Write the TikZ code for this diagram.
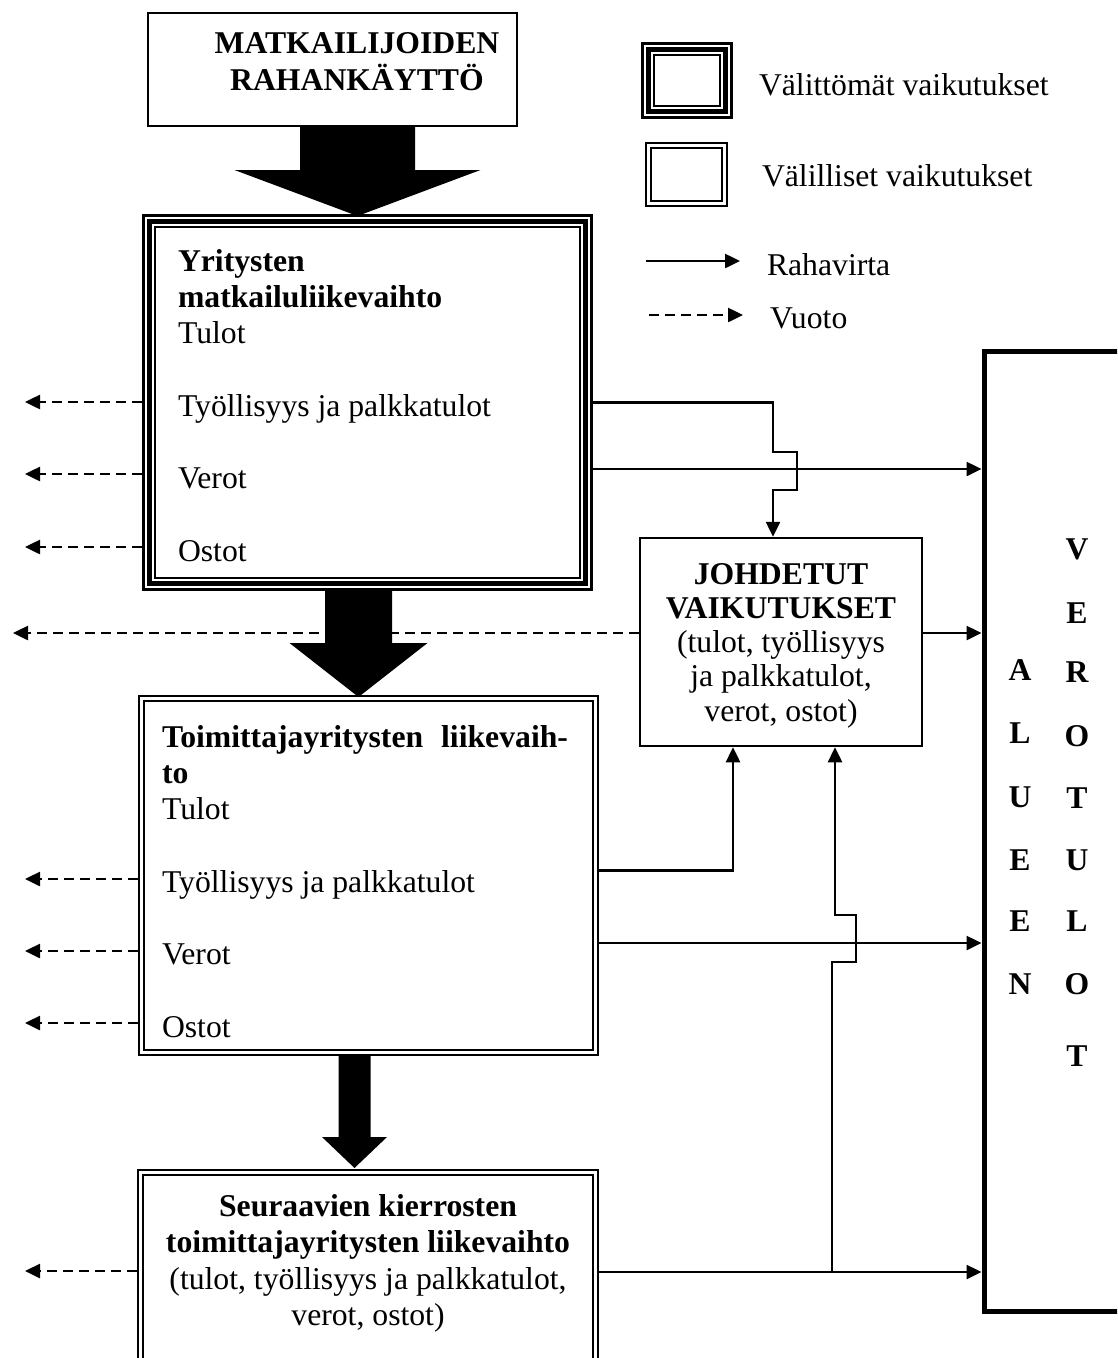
\documentclass[tikz,border=0pt]{standalone}
\usepackage{fontspec}
\setmainfont{Liberation Serif}
\usetikzlibrary{arrows.meta,calc}
\newcommand\TripBorder[1]{%
  \draw[line width=3pt] ([shift={(1.5pt,-1.5pt)}]#1.north west) rectangle ([shift={(-1.5pt,1.5pt)}]#1.south east);
  \draw[line width=5pt] ([shift={(7.5pt,-7.5pt)}]#1.north west) rectangle ([shift={(-7.5pt,7.5pt)}]#1.south east);
  \draw[line width=2.3pt] ([shift={(13pt,-13pt)}]#1.north west) rectangle ([shift={(-13pt,13pt)}]#1.south east);}
\newcommand\DblBorder[1]{%
  \draw[line width=2.3pt] ([shift={(1.15pt,-1.15pt)}]#1.north west) rectangle ([shift={(-1.15pt,1.15pt)}]#1.south east);
  \draw[line width=2.3pt] ([shift={(5.8pt,-5.8pt)}]#1.north west) rectangle ([shift={(-5.8pt,5.8pt)}]#1.south east);}
% center x, shaft top y, head start y, tip y, shaft half width, head half width
\newcommand\FatArrow[6]{%
  \fill ({#1-#5},#2) -- ({#1+#5},#2) -- ({#1+#5},#3) -- ({#1+#6},#3) -- (#1,#4) -- ({#1-#6},#3) -- ({#1-#5},#3) -- cycle;}
\begin{document}
\begin{tikzpicture}[x=1pt,y=-1pt,
  every node/.style={inner sep=0pt, outer sep=0pt, font=\fontsize{31.7}{36.3}\selectfont},
  area/.style={rectangle, minimum width=#1},
  txt/.style={anchor=base west},
  ctr/.style={anchor=base},
  bf/.style={font=\fontsize{31.7}{36.3}\selectfont\bfseries},
  flow/.style={line width=2.5pt, -{Triangle[length=15pt,width=14pt]}},
  leak/.style={flow, dash pattern=on 10pt off 6pt}]
\useasboundingbox (0,0) rectangle (1117,1358);
\clip (0,0) rectangle (1117,1358);

% ---------- boxes ----------
\node[area=369pt, minimum height=113pt, draw, line width=2pt] (b1) at (332.5,69.5) {};
\node[area=451pt, minimum height=377pt] (b2) at (367.5,402.5) {};
\node[area=461pt, minimum height=361pt] (b3) at (368.5,875.5) {};
\node[area=462pt, minimum height=251pt] (b4) at (368,1294.5) {};
\node[area=282pt, minimum height=208pt, draw, line width=2.5pt, outer sep=1.25pt] (jd) at (781,642) {};
\node[area=146pt, minimum height=959.5pt, draw, line width=5pt, outer sep=2.5pt] (rb) at (1057,831.25) {};
\node[area=92pt, minimum height=77pt] (lt) at (687,80.5) {};
\node[area=83pt, minimum height=65pt] (ld) at (686.5,174.5) {};
\TripBorder{b2}
\TripBorder{lt}
\DblBorder{b3}
\DblBorder{b4}
\DblBorder{ld}

% ---------- texts ----------
\node[ctr, bf] (t1a) at (357,53) {MATKAILIJOIDEN};
\node[ctr, bf] (t1b) at (357,90) {RAHANKÄYTTÖ};

\node[txt, bf] (t2a) at (178,271) {Yritysten};
\node[txt, bf] (t2b) at (178,307.3) {matkailuliikevaihto};
\node[txt] (t2c) at (178,343.6) {Tulot};
\node[txt] (t2d) at (178,416.2) {Työllisyys ja palkkatulot};
\node[txt] (t2e) at (178,488.8) {Verot};
\node[txt] (t2f) at (178,561.4) {Ostot};

\node[txt, bf] (t3a) at (162,747) {\makebox[406pt][s]{Toimittajayritysten liikevaih-}};
\node[txt, bf] (t3b) at (162,783.3) {to};
\node[txt] (t3c) at (162,819.6) {Tulot};
\node[txt] (t3d) at (162,892.2) {Työllisyys ja palkkatulot};
\node[txt] (t3e) at (162,964.8) {Verot};
\node[txt] (t3f) at (162,1037.4) {Ostot};

\node[ctr, bf] (t4a) at (368,1216) {Seuraavien kierrosten};
\node[ctr, bf] (t4b) at (368,1252.5) {toimittajayritysten liikevaihto};
\node[ctr] (t4c) at (368,1289) {(tulot, työllisyys ja palkkatulot,};
\node[ctr] (t4d) at (368,1325.5) {verot, ostot)};

\node[ctr, bf] (tja) at (781,584) {JOHDETUT};
\node[ctr, bf] (tjb) at (781,618.3) {VAIKUTUKSET};
\node[ctr] (tjc) at (781,652.6) {(tulot, työllisyys};
\node[ctr] (tjd) at (781,686.9) {ja palkkatulot,};
\node[ctr] (tje) at (781,721.2) {verot, ostot)};

\foreach \l/\y [count=\i] in {A/670,L/733,U/797,E/860,E/921,N/984}
  \node[bf, anchor=center] (al\i) at (1020,\y) {\l};
\foreach \l/\y [count=\i] in {V/549,E/613,R/672,O/736,T/798,U/860,L/921,O/984,T/1056}
  \node[bf, anchor=center] (vr\i) at (1077,\y) {\l};

% ---------- legend ----------
\node[txt] (lg1) at (759,95) {Välittömät vaikutukset};
\node[txt] (lg2) at (762,186) {Välilliset vaikutukset};
\node[txt] (lg3) at (767,275) {Rahavirta};
\node[txt] (lg4) at (770,328) {Vuoto};
\coordinate (la0) at (646,261);
\coordinate (la1) at (740,261);
\coordinate (lv0) at (649,315);
\coordinate (lv1) at (743,315);
\draw[flow] (la0) -- (la1);
\draw[leak] (lv0) -- (lv1);

% ---------- leakage (dashed) ----------
\draw[leak] (jd.west |- 0,633) -- (13,633);
\foreach \y in {402,474,547} \draw[leak] (b2.west |- 0,\y) -- (25,\y);
\foreach \y in {879,951,1023} \draw[leak] (b3.west |- 0,\y) -- (25,\y);
\draw[leak] (b4.west |- 0,1271) -- (25,1271);

% ---------- big arrows ----------
\FatArrow{357.5}{126}{170}{216}{57.5}{123}
\FatArrow{358.5}{591}{643}{697}{33.5}{69}
\FatArrow{354.5}{1056}{1137}{1168}{16}{32.5}

% ---------- money flows ----------
\draw[flow] (b2.east |- 0,402.5) -- (773,402.5) -- (773,452) -- (797,452) -- (797,490) -- (773,490) -- (jd.north -| 773,0);
\draw[flow] (b2.east |- 0,469) -- (rb.west |- 0,469);
\draw[flow] (jd.east |- 0,633) -- (rb.west |- 0,633);
\draw[flow] (b3.east |- 0,870.5) -- (733,870.5) -- (jd.south -| 733,0);
\draw[flow] (b3.east |- 0,943) -- (rb.west |- 0,943);
\draw[flow] (b4.east |- 0,1272) -- (rb.west |- 0,1272);
\draw[flow] (832,1272) -- (832,962) -- (856,962) -- (856,915) -- (835,915) -- (jd.south -| 835,0);
\end{tikzpicture}
\end{document}
